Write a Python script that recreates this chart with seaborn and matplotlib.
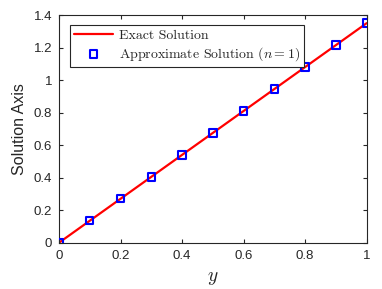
import numpy as np
import pandas as pd
import matplotlib
matplotlib.use("Agg")
import matplotlib.pyplot as plt
import seaborn as sns

# data
y_vals = [0.0, 0.1, 0.2, 0.3, 0.4, 0.5, 0.6, 0.7, 0.8, 0.9, 1.0]
exact = [0.0, 0.135, 0.27, 0.405, 0.54, 0.675, 0.81, 0.945, 1.08, 1.215, 1.35]
approx = [0.0, 0.135, 0.27, 0.405, 0.54, 0.675, 0.81, 0.945, 1.08, 1.215, 1.35]
xticks = [0, 0.2, 0.4, 0.6, 0.8, 1]
xtick_labels = ["0", "0.2", "0.4", "0.6", "0.8", "1"]
yticks = [0, 0.2, 0.4, 0.6, 0.8, 1, 1.2, 1.4]
ytick_labels = ["0", "0.2", "0.4", "0.6", "0.8", "1", "1.2", "1.4"]

df = pd.DataFrame({"y": y_vals, "exact": exact, "approx": approx})

sns.set_style("ticks")
plt.rcParams["font.family"] = ["Liberation Sans", "DejaVu Sans"]
plt.rcParams["mathtext.fontset"] = "cm"

fig = plt.figure(figsize=(3.82, 2.89), dpi=100)
ax = fig.add_axes([59 / 382, 1 - 242.7 / 289, (366.7 - 59) / 382, (242.7 - 15) / 289])

sns.lineplot(data=df, x="y", y="exact", ax=ax, color="#ff0000", linewidth=1.6,
             label="Exact Solution")
sns.scatterplot(data=df, x="y", y="approx", ax=ax, marker="s", s=28,
                facecolor="none", edgecolor="#0000ff", linewidth=1.5,
                label="Approximate Solution ($n = 1$)", zorder=3)

ax.set_xlim(0, 1)
ax.set_ylim(0, 1.4)
ax.set_xticks(xticks)
ax.set_xticklabels(xtick_labels)
ax.set_yticks(yticks)
ax.set_yticklabels(ytick_labels)
ax.tick_params(direction="in", length=3, width=0.8, labelsize=9.5, colors="#262626",
               top=True, right=True, pad=5)
for sp in ax.spines.values():
    sp.set_visible(True)
    sp.set_linewidth(0.8)
    sp.set_color("#262626")

ax.set_xlabel("$y$", fontsize=14, labelpad=6)
ax.set_ylabel("Solution Axis", fontsize=11.5, labelpad=5)

leg = ax.legend(loc="upper left", bbox_to_anchor=(0.036, 0.956), borderaxespad=0,
                fancybox=False, framealpha=1, edgecolor="#262626", handlelength=2.8,
                borderpad=0.3, labelspacing=0.25, handletextpad=0.4,
                prop={"family": "cmr10", "size": 10})
leg.get_frame().set_linewidth(0.8)

fig.savefig("out.png", dpi=100)
